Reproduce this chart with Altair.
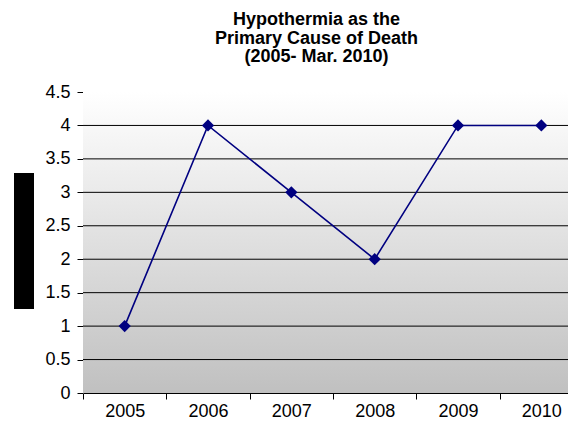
import altair as alt
import pandas as pd

years = ["2005", "2006", "2007", "2008", "2009", "2010"]
deaths = [1, 4, 3, 2, 4, 4]
y_ticks = [0, 0.5, 1, 1.5, 2, 2.5, 3, 3.5, 4, 4.5]
grid_values = [0.5, 1, 1.5, 2, 2.5, 3, 3.5, 4]
title_lines = ["Hypothermia as the", "Primary Cause of Death", "(2005- Mar. 2010)"]

W, H = 485, 301

df = pd.DataFrame({"year": years, "deaths": deaths})
grid_df = pd.DataFrame({"v": grid_values})

y_scale = alt.Scale(domain=[0, 4.5], nice=False)
y_axis = alt.Axis(
    values=y_ticks,
    format="~g",
    title=None,
    labelFontSize=18,
    labelFont="Liberation Sans",
    labelColor="black",
    labelPadding=7,
    tickColor="black",
    tickSize=6,
    domainColor="#808080",
    grid=False,
)
x_axis = alt.Axis(
    title=None,
    labelAngle=0,
    tickBand="extent",
    labelFontSize=18,
    labelFont="Liberation Sans",
    labelColor="black",
    labelPadding=3,
    tickColor="black",
    tickSize=6,
    domainColor="black",
    grid=False,
)
x_scale = alt.Scale(range=[0, 500], paddingInner=0, paddingOuter=0)

gradient = alt.LinearGradient(
    gradient="linear",
    x1=0, y1=0, x2=0, y2=1,
    stops=[
        alt.GradientStop(offset=0, color="#ffffff"),
        alt.GradientStop(offset=1, color="#c0c0c0"),
    ],
)

# plot-area background
bg = alt.Chart(pd.DataFrame({"k": [0]})).mark_rect(color=gradient).encode(
    x=alt.value(0),
    x2=alt.value(W),
    y=alt.Y(datum=4.5, type="quantitative", scale=y_scale, axis=y_axis),
    y2=alt.datum(0),
)

# redacted axis title box
redact = alt.Chart(pd.DataFrame({"k": [0]})).mark_rect(color="black").encode(
    x=alt.value(-69),
    x2=alt.value(-49),
    y=alt.value(81),
    y2=alt.value(217),
)

grid = alt.Chart(grid_df).mark_rule(color="black", strokeWidth=1).encode(
    y=alt.Y("v:Q", scale=y_scale, axis=y_axis),
)

base = alt.Chart(df).encode(
    x=alt.X("year:N", sort=years, scale=x_scale, axis=x_axis),
    y=alt.Y("deaths:Q", scale=y_scale, axis=y_axis),
)

line = base.mark_line(color="#000080", strokeWidth=1.6)
points = base.mark_point(shape="diamond", filled=True, size=150, color="#000080", opacity=1)

chart = (
    alt.layer(bg, grid, redact, line, points)
    .properties(
        width=W,
        height=H,
        autosize=alt.AutoSizeParams(type="none"),
        padding={"left": 75, "top": 84, "right": 0, "bottom": 30},
        title=alt.TitleParams(
            text=title_lines,
            font="Liberation Sans",
            fontSize=18,
            fontWeight="bold",
            color="black",
            lineHeight=18.5,
            anchor="middle",
            dx=-9,
            offset=17,
        ),
    )
    .configure_view(stroke="#808080", strokeWidth=1)
)

chart.save("out.html", embed_options={"renderer": "svg", "actions": False})
